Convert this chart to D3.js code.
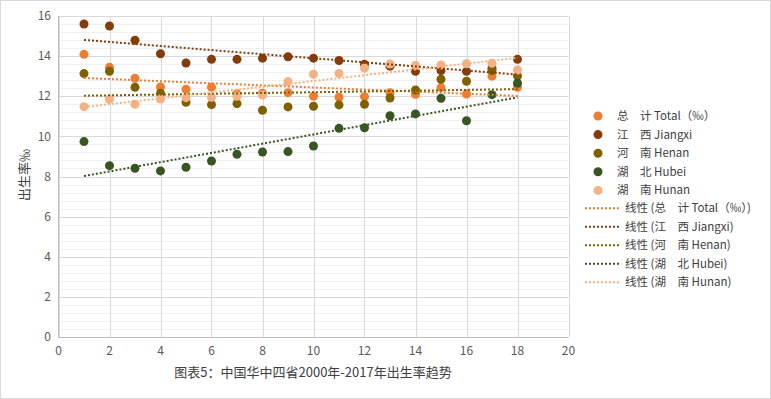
<!DOCTYPE html>
<html>
<head>
<meta charset="utf-8">
<script src="https://cdn.jsdelivr.net/npm/d3@7"></script>
<style>
  body { margin: 0; background: #fff; }
  svg { display: block; font-family: "Noto Sans CJK SC", "Noto Sans", sans-serif; }
</style>
</head>
<body>
<svg id="chart" width="771" height="399"></svg>
<script>
// years 2000-2017 numbered 1..18
var years = [1, 2, 3, 4, 5, 6, 7, 8, 9, 10, 11, 12, 13, 14, 15, 16, 17, 18]

var total   = [14.09, 13.44, 12.90, 12.46, 12.35, 12.45, 12.12, 12.15, 12.18, 12.00, 11.95, 11.98, 12.18, 12.10, 12.43, 12.11, 13.00, 12.45]
var jiangxi = [15.60, 15.50, 14.79, 14.12, 13.66, 13.84, 13.84, 13.90, 13.97, 13.90, 13.78, 13.59, 13.50, 13.24, 13.28, 13.24, 13.40, 13.84]
var henan   = [13.13, 13.24, 12.45, 12.15, 11.70, 11.58, 11.63, 11.30, 11.47, 11.50, 11.57, 11.60, 11.91, 12.31, 12.85, 12.75, 13.28, 13.01]
var hubei   = [9.74, 8.54, 8.41, 8.28, 8.46, 8.77, 9.11, 9.22, 9.24, 9.52, 10.40, 10.43, 11.03, 11.12, 11.90, 10.78, 12.08, 12.65]
var hunan   = [11.48, 11.85, 11.60, 11.86, 11.93, 11.95, 12.00, 12.06, 12.73, 13.10, 13.14, 13.41, 13.61, 13.54, 13.56, 13.62, 13.64, 13.31]

var seriesNames = ["总\u3000计 Total（‰）", "江\u3000西 Jiangxi", "河\u3000南 Henan", "湖\u3000北 Hubei", "湖\u3000南 Hunan"]
var seriesValues = [total, jiangxi, henan, hubei, hunan]
var seriesColors = ["#ED7D31", "#843C0C", "#7F6000", "#375623", "#F4B183"]

var xTicks = [0, 2, 4, 6, 8, 10, 12, 14, 16, 18, 20]
var yTicks = [0, 2, 4, 6, 8, 10, 12, 14, 16]

var chartTitle = "图表5：中国华中四省2000年-2017年出生率趋势"
var yTitle = "出生率‰"

var svg = d3.select("#chart")

// outer border
svg.append("rect")
    .attr("x", 0.5).attr("y", 0.5)
    .attr("width", 770).attr("height", 398)
    .style("fill", "#fff")
    .style("stroke", "#d9d9d9")

var x = d3.scaleLinear().domain([0, 20]).range([58.5, 568.5])
var y = d3.scaleLinear().domain([0, 16]).range([337, 16])

// minor gridlines
var minor = d3.range(0, 16.001, 0.4)
svg.append("g").selectAll("line")
    .data(minor)
    .enter().append("line")
    .attr("x1", x(0)).attr("x2", x(20))
    .attr("y1", function(d) { return Math.round(y(d)) + 0.5 })
    .attr("y2", function(d) { return Math.round(y(d)) + 0.5 })
    .style("stroke", "#f0f0f0")

// major gridlines
svg.append("g").selectAll("line")
    .data(yTicks)
    .enter().append("line")
    .attr("x1", x(0)).attr("x2", x(20))
    .attr("y1", function(d) { return Math.round(y(d)) + 0.5 })
    .attr("y2", function(d) { return Math.round(y(d)) + 0.5 })
    .style("stroke", "#d9d9d9")

svg.append("g").selectAll("line")
    .data(xTicks)
    .enter().append("line")
    .attr("x1", function(d) { return Math.round(x(d)) + 0.5 })
    .attr("x2", function(d) { return Math.round(x(d)) + 0.5 })
    .attr("y1", y(0)).attr("y2", y(16))
    .style("stroke", "#d9d9d9")

// axes lines
svg.append("line")
    .attr("x1", x(0)).attr("x2", x(0)).attr("y1", y(0)).attr("y2", y(16))
    .style("stroke", "#bfbfbf")
svg.append("line")
    .attr("x1", x(0)).attr("x2", x(20)).attr("y1", y(0) + 0.5).attr("y2", y(0) + 0.5)
    .style("stroke", "#bfbfbf")

// tick labels
svg.append("g").selectAll("text")
    .data(yTicks)
    .enter().append("text")
    .attr("x", 51)
    .attr("y", function(d) { return y(d) })
    .attr("dy", ".35em")
    .attr("text-anchor", "end")
    .style("font-size", "12px")
    .style("fill", "#595959")
    .text(function(d) { return d })

svg.append("g").selectAll("text")
    .data(xTicks)
    .enter().append("text")
    .attr("x", function(d) { return x(d) })
    .attr("y", 355)
    .attr("text-anchor", "middle")
    .style("font-size", "12px")
    .style("fill", "#595959")
    .text(function(d) { return d })

// y title
svg.append("text")
    .attr("transform", "translate(29,175) rotate(-90)")
    .attr("text-anchor", "middle")
    .style("font-size", "13px")
    .style("fill", "#404040")
    .text(yTitle)

// chart title
svg.append("text")
    .attr("x", 313)
    .attr("y", 377)
    .attr("text-anchor", "middle")
    .style("font-size", "13px")
    .style("fill", "#404040")
    .text(chartTitle)

// points
seriesValues.forEach(function(vals, s) {
    svg.append("g").selectAll("circle")
        .data(vals)
        .enter().append("circle")
        .attr("cx", function(d, i) { return x(years[i]) })
        .attr("cy", function(d) { return y(d) })
        .attr("r", 4.5)
        .style("fill", seriesColors[s])
})

// linear trendlines (least squares)
function fit(vals) {
    var mx = d3.mean(years), my = d3.mean(vals)
    var sxy = d3.sum(years, function(v, i) { return (v - mx) * (vals[i] - my) })
    var sxx = d3.sum(years, function(v) { return (v - mx) * (v - mx) })
    var b = sxy / sxx
    return { a: my - b * mx, b: b }
}

seriesValues.forEach(function(vals, s) {
    var f = fit(vals)
    var x0 = d3.min(years), x1 = d3.max(years)
    svg.append("line")
        .attr("x1", x(x0)).attr("y1", y(f.a + f.b * x0))
        .attr("x2", x(x1)).attr("y2", y(f.a + f.b * x1))
        .style("stroke", seriesColors[s])
        .style("stroke-width", 2)
        .style("stroke-dasharray", "2,2")
})

// legend
var legend = svg.append("g").style("font-size", "11.5px").style("fill", "#404040")

seriesNames.forEach(function(name, s) {
    var ly = 116 + s * 18.6
    legend.append("circle")
        .attr("cx", 598).attr("cy", ly).attr("r", 4.5)
        .style("fill", seriesColors[s])
    legend.append("text")
        .attr("x", 617).attr("y", ly).attr("dy", ".35em")
        .text(name)
})

seriesNames.forEach(function(name, s) {
    var ly = 208.3 + s * 18.5
    legend.append("line")
        .attr("x1", 585).attr("x2", 620).attr("y1", ly).attr("y2", ly)
        .style("stroke", seriesColors[s])
        .style("stroke-width", 2)
        .style("stroke-dasharray", "2,2")
    legend.append("text")
        .attr("x", 625).attr("y", ly).attr("dy", ".35em")
        .text("线性 (" + name + ")")
})
</script>
</body>
</html>
